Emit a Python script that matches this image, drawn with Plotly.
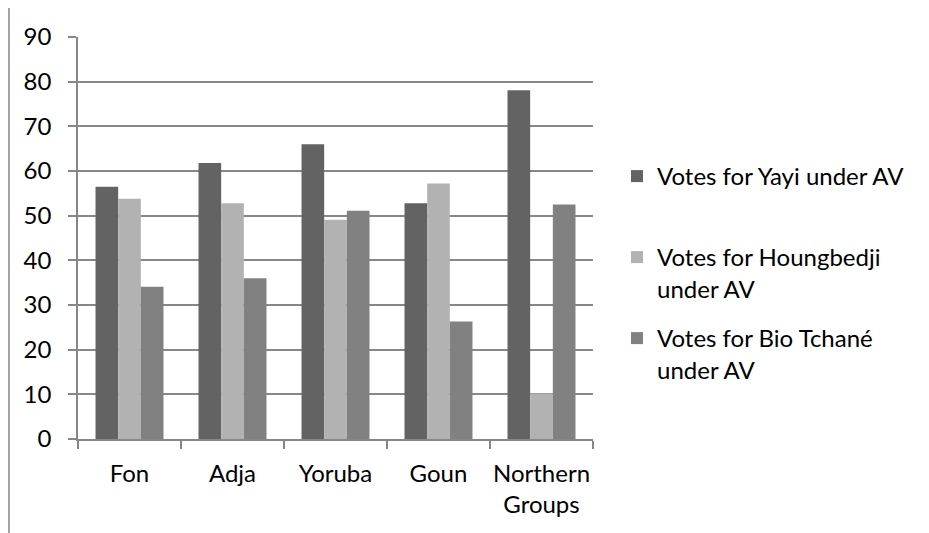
import plotly.graph_objects as go

categories = ["Fon", "Adja", "Yoruba", "Goun", "Northern<br>Groups"]
yayi = [56.5, 61.8, 66.0, 52.8, 78.1]
houngbedji = [53.8, 52.8, 49.1, 57.2, 10.2]
bio_tchane = [34.1, 36.0, 51.1, 26.3, 52.5]
series_names = ["Votes for Yayi under AV", "Votes for Houngbedji<br>under AV", "Votes for Bio Tchané<br>under AV"]
series_colors = ["#636363", "#b2b2b2", "#818181"]
y_ticks = [0, 10, 20, 30, 40, 50, 60, 70, 80, 90]

OFF = 8  # default page body margin in the browser
W, H = 929 - OFF, 533 - OFF
# plot-area edges in page pixels
L, R, T, B = 78, 593, 37, 439
FONT = "Lato"
FS = 24
GRID = "#878787"

def px_x(px):
    return (px - L) / (R - L)

def px_y(py):
    return (B - py) / (B - T)

fig = go.Figure()
legends = ["legend", "legend2", "legend3"]
for vals, name, col, lg in zip([yayi, houngbedji, bio_tchane], series_names, series_colors, legends):
    fig.add_trace(go.Bar(x=categories, y=vals, name=name, marker=dict(color=col, line=dict(width=0)),
                         legend=lg))

legend_tops = [154, 235, 316]
LEG_X = 617
leg_common = dict(font=dict(family=FONT, size=FS, color="#000000"), bgcolor="rgba(0,0,0,0)",
                  borderwidth=0, valign="top", itemwidth=30, xanchor="left", yanchor="top")
fig.update_layout(
    legend=dict(x=px_x(LEG_X), y=px_y(legend_tops[0]), **leg_common),
    legend2=dict(x=px_x(LEG_X), y=px_y(legend_tops[1]), **leg_common),
    legend3=dict(x=px_x(LEG_X), y=px_y(legend_tops[2]), **leg_common),
)

fig.update_layout(
    width=W, height=H,
    margin=dict(l=L - OFF, r=W - (R - OFF), t=T - OFF, b=H - (B - OFF), pad=0),
    paper_bgcolor="white", plot_bgcolor="white",
    barmode="group", bargap=0.34, bargroupgap=0,
    font=dict(family=FONT, size=FS, color="#000000"),
    showlegend=True,
    xaxis=dict(showgrid=False, showline=True, linecolor=GRID, linewidth=1.5,
               ticks="outside", ticklen=8, tickcolor=GRID, tickwidth=1.5,
               tickson="boundaries", ticklabelstandoff=12, automargin=False, tickangle=0,
               tickfont=dict(family=FONT, size=FS, color="#000000")),
    yaxis=dict(range=[0, 90], tickvals=y_ticks, showgrid=True, gridcolor=GRID, gridwidth=1.5,
               showline=True, linecolor=GRID, linewidth=1.5, zeroline=False,
               ticks="outside", ticklen=8, tickcolor=GRID, tickwidth=1.5,
               ticklabelstandoff=12, automargin=False,
               tickfont=dict(family=FONT, size=FS, color="#000000")),
)

# chart frame (partially visible, extends beyond the page)
fig.add_shape(type="rect", xref="paper", yref="paper",
              x0=px_x(9), y0=px_y(700), x1=px_x(1200), y1=px_y(7),
              line=dict(color=GRID, width=1.5), fillcolor="rgba(0,0,0,0)", layer="below")

fig.write_html("out.html")
